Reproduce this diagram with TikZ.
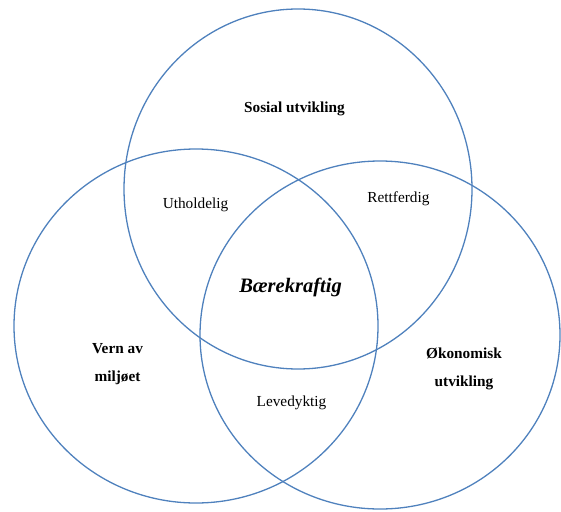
\documentclass[tikz,border=0pt]{standalone}
\usepackage{fontspec}
\setmainfont{Liberation Serif}
\definecolor{ringblue}{RGB}{79,129,189}
\tikzset{
  ring/.style={draw=ringblue, line width=1.3pt},
  area/.style={font=\fontsize{15.3}{28}\selectfont\bfseries, align=center},
  overlap/.style={font=\fontsize{15.3}{18}\selectfont},
  core/.style={font=\fontsize{20.5}{24}\selectfont\bfseries\itshape}
}
\begin{document}
\begin{tikzpicture}[x=1pt, y=-1pt]
\useasboundingbox (0,0) rectangle (561,511);
\draw[ring] (298,189) ellipse [x radius=174, y radius=180];
\draw[ring] (196,326) ellipse [x radius=182, y radius=177];
\draw[ring] (380,335) ellipse [x radius=180, y radius=174];
\node[area] (sosial) at (294.5,109) {Sosial utvikling};
\node[area] (miljo) at (117.5,364) {Vern av\\miljøet};
\node[area] (okonomi) at (464,369) {Økonomisk\\utvikling};
\node[overlap] (uthold) at (195.5,205) {Utholdelig};
\node[overlap] (rett) at (398.5,199) {Rettferdig};
\node[overlap] (leve) at (291.5,403) {Levedyktig};
\node[core] (baere) at (290.5,287) {Bærekraftig};
\end{tikzpicture}
\end{document}
